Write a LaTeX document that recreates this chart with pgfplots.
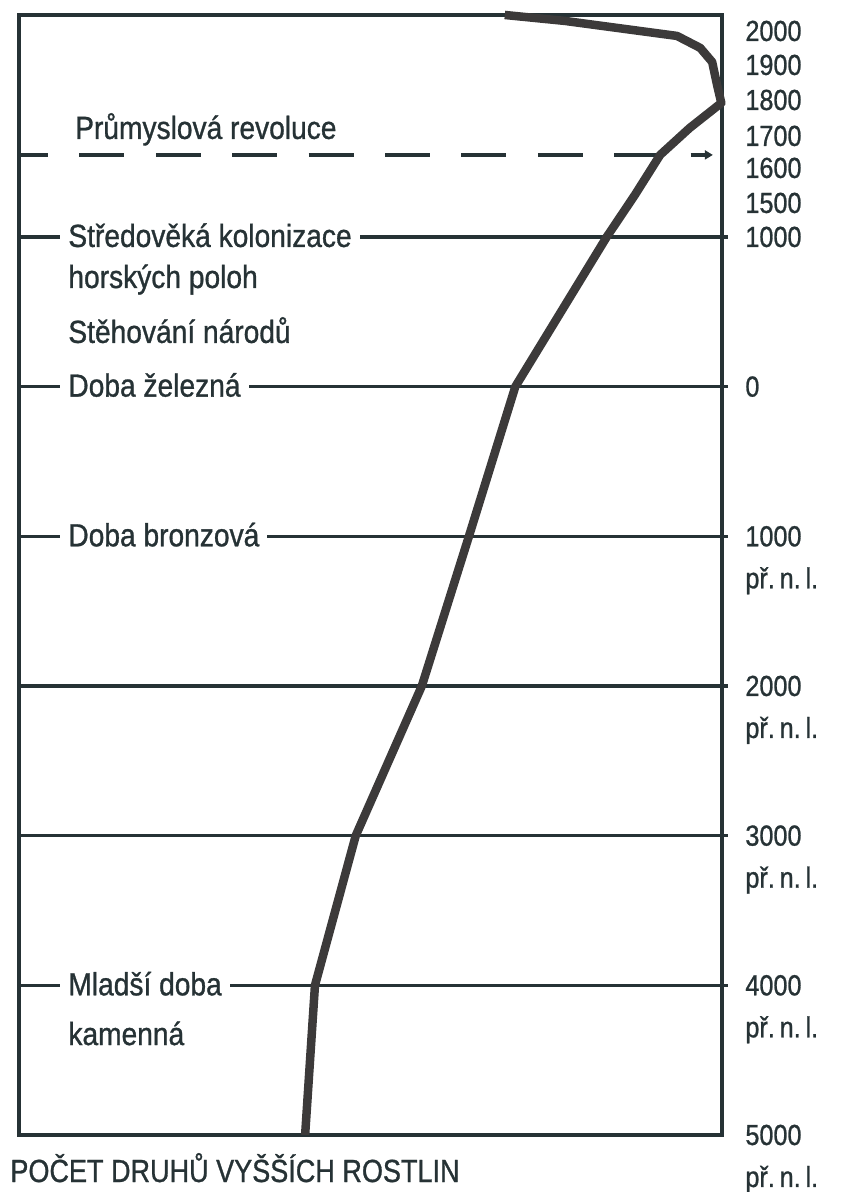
\documentclass[border=0pt]{standalone}
\usepackage{pgfplots}
\pgfplotsset{compat=1.18}
\usetikzlibrary{arrows.meta}
\usepackage{fontspec}
\setmainfont{Liberation Sans}[FakeStretch=0.88, FakeBold=0.9]
\newfontfamily\numfont{Liberation Sans}[FakeStretch=0.87, FakeBold=0.9]
\newfontfamily\titlefont{Liberation Sans}[FakeStretch=0.845, FakeBold=0.9]
\definecolor{ink}{RGB}{38,50,53}
\definecolor{crv}{RGB}{60,58,58}
\newcommand\pnl[1]{\rlap{\raisebox{-21pt}[0pt][0pt]{př.\,n.\,l.}}#1}
\begin{document}
\begin{tikzpicture}[x=1pt,y=1pt]
\useasboundingbox (-9.5,-28.5) rectangle (410.5,567.5);
\begin{axis}[
  at={(0,0)}, anchor=south west,
  scale only axis, width=351.5pt, height=560pt,
  xmin=0, xmax=100, ymin=-5000, ymax=2483,
  clip=false,
  axis line style={ink, line width=2pt},
  xtick=\empty,
  ytick={-5000,-4000,-3000,-2000,-1000,0,1000,1227,1461,1675,1915,2149,2376},
  yticklabels={\pnl{5000},\pnl{4000},\pnl{3000},\pnl{2000},\pnl{1000},0,1000,1500,1600,1700,1800,1900,2000},
  yticklabel pos=right,
  major tick length=0pt,
  yticklabel style={anchor=west, inner sep=0pt, xshift=11.5pt, text=ink, font=\numfont\fontsize{14.5}{16}\selectfont},
]
% horizontal period lines
\addplot[ink, line width=1.7pt] coordinates {(0,1000) (100.9,1000)};
\addplot[ink, line width=1.7pt] coordinates {(0,0) (100.9,0)};
\addplot[ink, line width=1.7pt] coordinates {(0,-1000) (100.9,-1000)};
\addplot[ink, line width=1.7pt] coordinates {(0,-2000) (100.9,-2000)};
\addplot[ink, line width=1.7pt] coordinates {(0,-3000) (100.9,-3000)};
\addplot[ink, line width=1.7pt] coordinates {(0,-4000) (100.9,-4000)};
% industrial revolution (dashed)
\addplot[ink, line width=1.9pt, dash pattern=on 22.5pt off 15.7pt, dash phase=8pt,
  -{Triangle[length=4pt,width=4.5pt]}] coordinates {(0,1548) (98.7,1548)};
% labels
\tikzset{lab/.style={anchor=base west, fill=white, inner xsep=4pt, inner ysep=1pt, text=ink, font=\fontsize{16}{18}\selectfont}}
\node[lab] at (axis cs:6.8,1655) {Průmyslová revoluce};
\node[lab, yshift=-5pt] at (axis cs:5.83,1000) {Středověká kolonizace\hspace{1pt}};
\node[lab] at (axis cs:5.83,659) {horských poloh};
\node[lab] at (axis cs:5.83,292) {Stěhování národů};
\node[lab, yshift=-5pt] at (axis cs:5.83,0) {Doba železná\hspace{5pt}};
\node[lab, yshift=-5pt] at (axis cs:5.83,-1000) {Doba bronzová\hspace{2pt}};
\node[lab, yshift=-5pt] at (axis cs:5.83,-4000) {Mladší doba};
\node[lab] at (axis cs:5.83,-4399) {kamenná};
% species curve
\addplot[crv, line width=4.25pt, line join=round] coordinates {
 (40.7,-5000) (42.1,-4000) (47.9,-3000) (57.3,-2000) (64.0,-1000) (70.6,0)
 (83.6,1000) (87.6,1280) (91.2,1548) (95.4,1728) (99.9,1895) (99.3,2015)
 (98.6,2169) (96.9,2263) (93.6,2343) (77.7,2443) (69.1,2483)};
\node[anchor=base west, inner sep=0pt, text=ink, font=\titlefont\fontsize{16}{18}\selectfont,
  xshift=-4.5pt, yshift=-23.5pt] at (rel axis cs:0,0) {POČET DRUHŮ VYŠŠÍCH ROSTLIN};
\end{axis}
\end{tikzpicture}
\end{document}
